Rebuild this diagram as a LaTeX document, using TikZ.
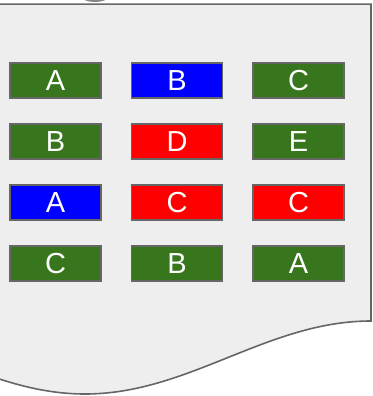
\documentclass[tikz,border=0pt]{standalone}
\usepackage{fontspec}
\setmainfont{Liberation Sans}
\definecolor{pagefill}{HTML}{EEEEEE}
\definecolor{pageline}{HTML}{666666}
\definecolor{bgreen}{HTML}{38761D}
\definecolor{bblue}{HTML}{0000FF}
\definecolor{bred}{HTML}{FF0000}
\tikzset{
  cell/.style={draw=pageline, line width=1.5pt, minimum width=91pt, minimum height=35pt,
    inner sep=0pt, text=white, font=\fontsize{29}{29}\selectfont},
  gcell/.style={cell, fill=bgreen},
  bcell/.style={cell, fill=bblue},
  rcell/.style={cell, fill=bred},
}
\begin{document}
\begin{tikzpicture}[x=1pt,y=-1pt]
\useasboundingbox (0,0) rectangle (372,396);
\clip (0,0) rectangle (372,396);
% small blob at the top
\fill[pageline!80] (95,-3) ellipse [x radius=13, y radius=5];
% page shape
\draw[fill=pagefill, draw=pageline, line width=1.6pt]
  (-210,4.2) -- (371,4.2) -- (371,321)
  .. controls (267,321) and (189,394) .. (85,394)
  .. controls (-19,394) and (-97,321) .. (-201,321) -- cycle;
% cells
\node[gcell] (a1) at (55.5,80.5) {A};
\node[bcell] (b1) at (177,80.5) {B};
\node[gcell] (c1) at (298.5,80.5) {C};
\node[gcell] (a2) at (55.5,141.5) {B};
\node[rcell] (b2) at (177,141.5) {D};
\node[gcell] (c2) at (298.5,141.5) {E};
\node[bcell] (a3) at (55.5,202.5) {A};
\node[rcell] (b3) at (177,202.5) {C};
\node[rcell] (c3) at (298.5,202.5) {C};
\node[gcell] (a4) at (55.5,263.5) {C};
\node[gcell] (b4) at (177,263.5) {B};
\node[gcell] (c4) at (298.5,263.5) {A};
\end{tikzpicture}
\end{document}
